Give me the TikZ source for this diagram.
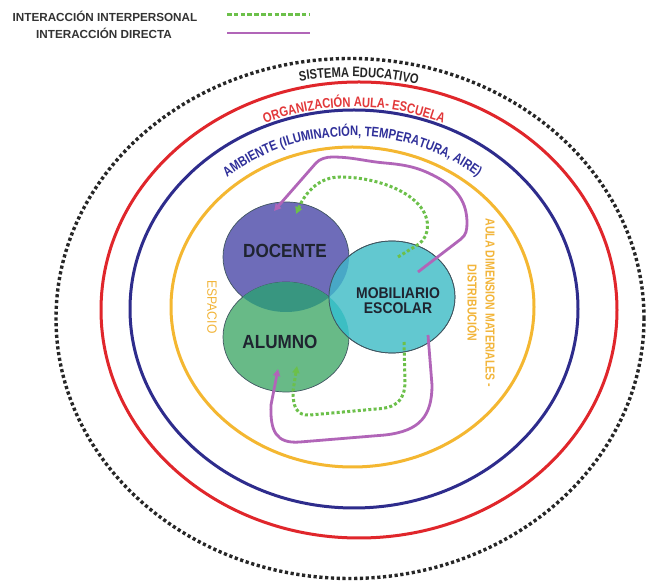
\documentclass[tikz,border=0pt]{standalone}
\usepackage{fontspec}
\setmainfont{Liberation Sans}
\newfontfamily\labfont{Liberation Sans}[FakeStretch=0.9]
\newfontfamily\narfont{Liberation Sans}[FakeStretch=0.81]
\usetikzlibrary{arrows.meta,decorations.text,shapes.geometric,calc}

\definecolor{ringred}{HTML}{E0262B}
\definecolor{ringblue}{HTML}{2E2C8C}
\definecolor{ringyellow}{HTML}{F4B731}
\definecolor{txtred}{HTML}{E2383A}
\definecolor{txtblue}{HTML}{30309A}
\definecolor{txtyellow}{HTML}{F2B53A}
\definecolor{docfill}{HTML}{6E6CB9}
\definecolor{alufill}{HTML}{68BA87}
\definecolor{mobfill}{HTML}{62C8D0}
\definecolor{docalu}{HTML}{389680}
\definecolor{docmob}{HTML}{48A8C6}
\definecolor{alumob}{HTML}{3CBEC3}
\definecolor{vennedge}{HTML}{3F5560}
\definecolor{directa}{HTML}{B165B8}
\definecolor{interp}{HTML}{6CC04A}
\definecolor{labtext}{HTML}{1F2430}

\newcommand\ringfont{\narfont\bfseries\fontsize{13.8pt}{16pt}\selectfont}

\begin{document}
\begin{tikzpicture}[x=1pt,y=1pt,
  ring/.style={line width=3pt},
  dotring/.style={line width=3.4pt, dash pattern=on 3.2pt off 2.6pt},
  venn/.style={ellipse, inner sep=0pt, outer sep=0pt, draw=vennedge, line width=0.7pt},
  vennlabel/.style={text=labtext, font=\labfont\bfseries\fontsize{19pt}{19pt}\selectfont},
  directline/.style={draw=directa, line width=2.8pt, -{Triangle[length=7pt,width=7pt]}},
  interline/.style={draw=interp, line width=3pt, dash pattern=on 3pt off 2.3pt, -{Triangle[length=7pt,width=7pt]}},
  legendtext/.style={text=black!80, font=\bfseries\fontsize{11.7pt}{13pt}\selectfont},
  sidelabel/.style={rotate=-90, align=center, text=txtyellow}
]
\useasboundingbox (0,0) rectangle (646,581);
\fill[white] (0,0) rectangle (646,581);

% legend
\node[legendtext] (legI) at (105,565) {INTERACCIÓN INTERPERSONAL};
\node[legendtext] (legD) at (104,548) {INTERACCIÓN DIRECTA};
\coordinate (legIa) at (227,566);
\coordinate (legIb) at (310,566);
\coordinate (legDa) at (227,548);
\coordinate (legDb) at (310,548);
\draw[draw=interp, line width=3pt, dash pattern=on 4.5pt off 2.3pt] (legIa) -- (legIb);
\draw[draw=directa, line width=2.8pt] (legDa) -- (legDb);

% concentric rings
\draw[dotring, black!85] (350,262.5) ellipse[x radius=294pt, y radius=260pt];
\draw[ring, ringred] (359,271) ellipse[x radius=258pt, y radius=228pt];
\draw[ring, ringblue] (354,272) ellipse[x radius=224pt, y radius=199pt];
\draw[ring, ringyellow] (352.5,274) ellipse[x radius=181.5pt, y radius=160pt];

% ring captions
\path[decorate, decoration={text along path, text align=center,
  text={|\ringfont\color{black!85}|SISTEMA EDUCATIVO}}]
  ([shift={(148:275.5pt and 241.5pt)}]350,262.5)
  arc[start angle=148, end angle=28, x radius=275.5pt, y radius=241.5pt];
\path[decorate, decoration={text along path, text align=center,
  text={|\ringfont\color{txtred}|ORGANIZACIÓN AULA- ESCUELA}}]
  ([shift={(150:227pt and 202pt)}]354,272)
  arc[start angle=150, end angle=30, x radius=227pt, y radius=202pt];
\path[decorate, decoration={text along path, text align=center,
  text={|\ringfont\color{txtblue}|AMBIENTE (ILUMINACIÓN, TEMPERATURA, AIRE)}}]
  ([shift={(150:192.5pt and 171pt)}]352.5,274)
  arc[start angle=150, end angle=30, x radius=192.5pt, y radius=171pt];

\node[sidelabel, font=\labfont\fontsize{13.5pt}{15pt}\selectfont] (espacio) at (212,274) {ESPACIO};
\node[sidelabel, font=\narfont\bfseries\fontsize{13pt}{18pt}\selectfont] (aula) at (481,278)
  {AULA DIMENSION MATERIALES -\\DISTRIBUCIÓN};

% three overlapping actors
\node[venn, fill=docfill, minimum width=126pt, minimum height=110pt] (doc) at (286,324) {};
\node[venn, fill=alufill, minimum width=126pt, minimum height=110pt] (alu) at (286,244) {};
\node[venn, fill=mobfill, minimum width=126pt, minimum height=112pt] (mob) at (392,284) {};

\begin{scope}
  \clip (doc.center) ellipse[x radius=63pt, y radius=55pt];
  \fill[docalu] (alu.center) ellipse[x radius=63pt, y radius=55pt];
  \fill[docmob] (mob.center) ellipse[x radius=63pt, y radius=56pt];
\end{scope}
\begin{scope}
  \clip (alu.center) ellipse[x radius=63pt, y radius=55pt];
  \fill[alumob] (mob.center) ellipse[x radius=63pt, y radius=56pt];
\end{scope}
\draw[draw=vennedge, line width=0.7pt] (mob.center) ellipse[x radius=63pt, y radius=56pt];

\node[vennlabel] (doctxt) at (285,330) {DOCENTE};
\node[vennlabel] (alutxt) at (280,239) {ALUMNO};
\node[text=labtext, align=center, font=\labfont\bfseries\fontsize{15.5pt}{15pt}\selectfont]
  (mobtxt) at (398,280.5) {MOBILIARIO\\ESCOLAR};

% direct interaction
\coordinate (upTail) at ($(mob.center)+(26,25)$);
\coordinate (upTip) at ($(doc.center)+(-12,46)$);
\draw[directline] (upTail) -- (461,342) to[out=38,in=-90] (467,358)
  to[out=90,in=-30] (440,402) to[out=150,in=-5] (385,418)
  to[out=175,in=0] (332,424) to[out=180,in=50,looseness=0.8] (316,418) -- (upTip);

\coordinate (loTail) at ($(mob.center)+(36,-38)$);
\coordinate (loTip) at ($(alu.center)+(-8,-32)$);
\draw[directline] (loTail) -- (432,196) .. controls (432,165) and (420,150) .. (385,146)
  -- (300,139) .. controls (276,137) and (270,150) .. (271,176) -- (loTip);

% interpersonal interaction
\coordinate (giTail) at ($(mob.center)+(6,40)$);
\coordinate (giTip) at ($(doc.center)+(10,43)$);
\draw[interline] (giTail) -- (419,337) .. controls (430,345) and (432,365) .. (415,380)
  .. controls (400,394) and (370,404) .. (340,404) .. controls (320,404) and (306,390) .. (giTip);

\coordinate (glTail) at ($(mob.center)+(12,-45)$);
\coordinate (glTip) at ($(alu.center)+(11,-29)$);
\draw[interline] (glTail) -- (405,200) .. controls (405,180) and (396,173) .. (376,172)
  -- (310,166) .. controls (296,165) and (293,175) .. (293,190) -- (glTip);
\end{tikzpicture}
\end{document}
